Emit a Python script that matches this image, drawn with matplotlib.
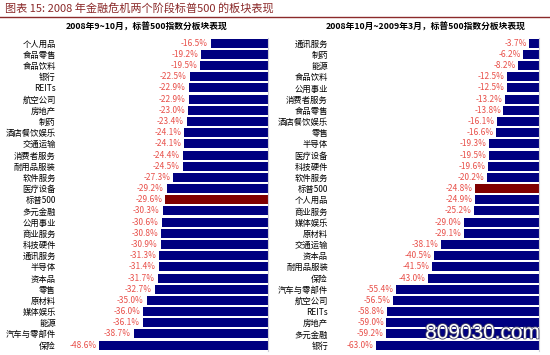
import matplotlib.pyplot as plt
import matplotlib.patheffects as pe

plt.rcParams['font.family'] = ['Noto Sans CJK SC', 'DejaVu Sans']

# 2008年9~10月
left_names = ['个人用品', '食品零售', '食品饮料', '银行', 'REITs', '航空公司', '房地产', '制药',
              '酒店餐饮娱乐', '交通运输', '消费者服务', '耐用品服装', '软件服务', '医疗设备',
              '标普500', '多元金融', '公用事业', '商业服务', '科技硬件', '通讯服务', '半导体',
              '资本品', '零售', '原材料', '媒体娱乐', '能源', '汽车与零部件', '保险']
left_vals = [-16.5, -19.2, -19.5, -22.5, -22.9, -22.9, -23.0, -23.4, -24.1, -24.1, -24.4,
             -24.5, -27.3, -29.2, -29.6, -30.3, -30.6, -30.8, -30.9, -31.3, -31.4, -31.7,
             -32.7, -35.0, -36.0, -36.1, -38.7, -48.6]

# 2008年10月~2009年3月
right_names = ['通讯服务', '制药', '能源', '食品饮料', '公用事业', '消费者服务', '食品零售',
               '酒店餐饮娱乐', '零售', '半导体', '医疗设备', '科技硬件', '软件服务', '标普500',
               '个人用品', '商业服务', '媒体娱乐', '原材料', '交通运输', '资本品', '耐用品服装',
               '保险', '汽车与零部件', '航空公司', 'REITs', '房地产', '多元金融', '银行']
right_vals = [-3.7, -6.2, -8.2, -12.5, -12.5, -13.2, -13.8, -16.1, -16.6, -19.3, -19.5,
              -19.6, -20.2, -24.8, -24.9, -25.2, -29.0, -29.1, -38.1, -40.5, -41.5, -43.0,
              -55.4, -56.5, -58.8, -59.0, -59.2, -63.0]

navy = '#000080'
dark_red = '#800000'
label_red = '#e8504a'

fig = plt.figure(figsize=(5.5, 3.55), dpi=100)

# 标题
fig.text(0.009, 0.975, '图表 15: 2008 年金融危机两个阶段标普500 的板块表现', fontsize=8,
         style='italic', color='#8b2a2a', va='center', ha='left')
fig.add_artist(plt.Line2D([0, 1], [0.953, 0.953], color='#8b2a2a', lw=1.0))

fig.text(0.267, 0.923, '2008年9~10月，标普500指数分板块表现', fontsize=6.3,
         fontweight='bold', ha='center', va='center')
fig.text(0.773, 0.923, '2008年10月~2009年3月，标普500指数分板块表现', fontsize=6.3,
         fontweight='bold', ha='center', va='center')


def draw_panel(rect, names, vals, xmin):
    ax = fig.add_axes(rect)
    y = list(range(len(names)))
    colors = [dark_red if n == '标普500' else navy for n in names]
    ax.barh(y, vals, height=0.8, color=colors)
    for yi, v in zip(y, vals):
        ax.text(v - 0.9, yi, f'{v:.1f}%', color=label_red, fontsize=6,
                ha='right', va='center')
    ax.set_xlim(xmin, 0)
    ax.set_ylim(len(names) - 0.5, -0.5)
    ax.set_yticks(y)
    ax.set_yticklabels(names, fontsize=6)
    ax.set_xticks([])
    ax.tick_params(axis='y', length=0, pad=3)
    for s in ['top', 'bottom', 'left']:
        ax.spines[s].set_visible(False)
    ax.spines['right'].set_color('#d0d0d8')
    ax.spines['right'].set_linewidth(0.8)
    return ax


draw_panel([0.109, 0.012, 0.378, 0.882], left_names, left_vals, -60)
draw_panel([0.604, 0.012, 0.376, 0.882], right_names, right_vals, -80)

fig.text(0.878, 0.062, '809030.com', fontsize=15, color='white', ha='center', va='center',
         family='Liberation Sans',
         path_effects=[pe.withStroke(linewidth=1.2, foreground='#444466')])

fig.savefig('out.png', dpi=100)
